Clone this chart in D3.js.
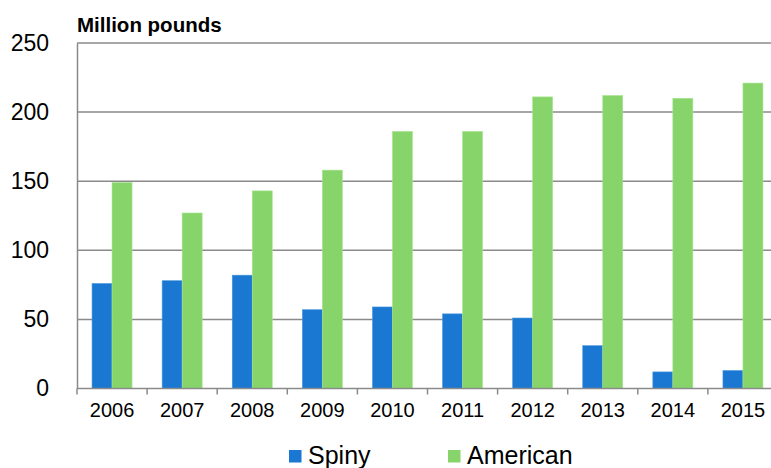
<!DOCTYPE html>
<html>
<head>
<meta charset="utf-8">
<script src="https://cdn.jsdelivr.net/npm/d3@7"></script>
<style>
  body { margin: 0; background: #fff; }
  text { font-family: "Liberation Sans", Arial, sans-serif; fill: #000; }
</style>
</head>
<body>
<div id="chart"></div>
<script>
var years = ['2006','2007','2008','2009','2010','2011','2012','2013','2014','2015'];
var spiny = [76, 78, 82, 57, 59, 54, 51, 31, 12, 13];
var american = [149, 127, 143, 158, 186, 186, 211, 212, 210, 221];
var seriesNames = ['Spiny', 'American'];
var colors = ['#1a77d2', '#87d46b'];
var yTicks = [0, 50, 100, 150, 200, 250];

var width = 771, height = 468;
var margin = {top: 43, right: 0, bottom: 79, left: 77};
var bandW = 70.1;

var svg = d3.select('#chart').append('svg')
    .attr('width', width)
    .attr('height', height);

var x = d3.scaleBand()
    .domain(years)
    .range([margin.left, margin.left + bandW * years.length]);

var y = d3.scaleLinear()
    .domain([0, 250])
    .range([height - margin.bottom - 0.5, margin.top]);

var inner = d3.scaleBand()
    .domain(seriesNames)
    .range([0, 40]);

// gridlines
svg.append('g')
    .selectAll('line')
    .data(yTicks.slice(1))
    .enter().append('line')
    .attr('x1', margin.left)
    .attr('x2', width)
    .attr('y1', function(d){ return y(d); })
    .attr('y2', function(d){ return y(d); })
    .attr('stroke', '#8a8a8a')
    .attr('stroke-width', 1.5);

// bars
var rows = years.map(function(yr, i){
    return {year: yr, values: [spiny[i], american[i]]};
});

var groups = svg.append('g').selectAll('g')
    .data(rows)
    .enter().append('g')
    .attr('transform', function(d){
        return 'translate(' + (x(d.year) + x.bandwidth() / 2 - 20) + ',0)';
    });

groups.selectAll('rect')
    .data(function(d){
        return d.values.map(function(v, j){ return {name: seriesNames[j], value: v, c: colors[j]}; });
    })
    .enter().append('rect')
    .attr('x', function(d){ return inner(d.name); })
    .attr('width', inner.bandwidth())
    .attr('y', function(d){ return y(d.value); })
    .attr('height', function(d){ return y(0) - y(d.value); })
    .attr('fill', function(d){ return d.c; })
    .attr('stroke', function(d, j){ return j ? '#a8e58f' : '#4b98dd'; })
    .attr('stroke-width', 0.6);

// y axis
var yAxis = d3.axisLeft(y).tickValues(yTicks).tickSize(0).tickPadding(28);
var ya = svg.append('g')
    .attr('transform', 'translate(' + margin.left + ',0)')
    .call(yAxis);
ya.select('.domain').attr('stroke', '#8a8a8a').attr('stroke-width', 1.5);
ya.selectAll('text').style('font-size', '23px');

// x axis
var xAxis = d3.axisBottom(x).tickSize(0).tickPadding(14);
var xa = svg.append('g')
    .attr('transform', 'translate(0,' + y(0) + ')')
    .call(xAxis);
xa.select('.domain').remove();
xa.append('line')
    .attr('x1', margin.left).attr('x2', width)
    .attr('stroke', '#8a8a8a').attr('stroke-width', 1.5);
xa.selectAll('.sep')
    .data(years)
    .enter().append('line')
    .attr('class', 'sep')
    .attr('x1', function(d){ return x(d); })
    .attr('x2', function(d){ return x(d); })
    .attr('y1', 0).attr('y2', 6)
    .attr('stroke', '#8a8a8a').attr('stroke-width', 1.5);
xa.selectAll('.tick text').style('font-size', '20px');

// unit title
svg.append('text')
    .attr('x', 77)
    .attr('y', 32)
    .style('font-size', '20.5px')
    .style('font-weight', 'bold')
    .text('Million pounds');

// legend
var legendX = [289, 448];
var legend = svg.append('g').selectAll('g')
    .data(seriesNames)
    .enter().append('g')
    .attr('transform', function(d, i){ return 'translate(' + legendX[i] + ',450)'; });
legend.append('rect')
    .attr('width', 12.5).attr('height', 12.5)
    .attr('fill', function(d, i){ return colors[i]; });
legend.append('text')
    .attr('x', 19)
    .attr('y', 13.5)
    .style('font-size', '25px')
    .text(function(d){ return d; });
</script>
</body>
</html>
